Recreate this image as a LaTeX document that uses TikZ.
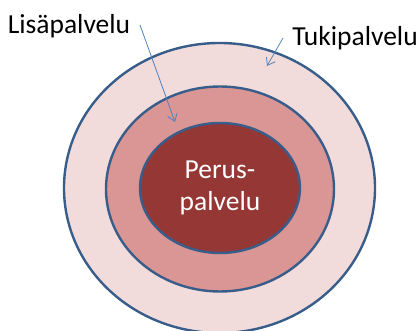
\documentclass[tikz,border=0pt]{standalone}
\usepackage{fontspec}
\setmainfont{Carlito}
\usepackage{tikz}
\usetikzlibrary{arrows.meta,positioning,shapes.geometric}
\definecolor{ringline}{RGB}{56,93,138}
\definecolor{arrowblue}{RGB}{79,129,189}
\definecolor{tukifill}{RGB}{242,220,219}
\definecolor{lisafill}{RGB}{217,150,148}
\definecolor{perusfill}{RGB}{149,55,53}

\begin{document}
\begin{tikzpicture}[x=1pt,y=1pt,
    ring/.style={draw=ringline,line width=2.4pt},
    label/.style={font=\fontsize{27.5}{30}\selectfont,inner sep=0pt},
    pointer/.style={draw=arrowblue,line width=0.8pt,-{Straight Barb[length=7pt,width=10pt]}}]
        \useasboundingbox (0,0) rectangle (420,331);
        % ---- renkaat ----
        \draw[ring,fill=tukifill] (219.5,143) ellipse (155.5 and 145);
        \draw[ring,fill=lisafill] (220,142) ellipse (114 and 102.5);
        \node[ring,fill=perusfill,ellipse,minimum width=160,minimum height=130,
              inner sep=0pt,align=center,text=white,
              font=\fontsize{27.5}{32}\selectfont] (perus) at (220,143)
            {Perus-\\palvelu};
        % ---- nimiöt ----
        \node[label] (lisa) at (69,305) {Lisäpalvelu};
        \node[label] (tuki) at (355,293) {Tukipalvelu};
        % ---- nuolet ----
        \coordinate (lisaA) at (140,306);
        \coordinate (lisaB) at (175,209);
        \coordinate (tukiA) at (283,293);
        \coordinate (tukiB) at (267,265);
        \draw[pointer] (lisaA) -- (lisaB);
        \draw[pointer] (tukiA) -- (tukiB);
      \end{tikzpicture}
\end{document}
